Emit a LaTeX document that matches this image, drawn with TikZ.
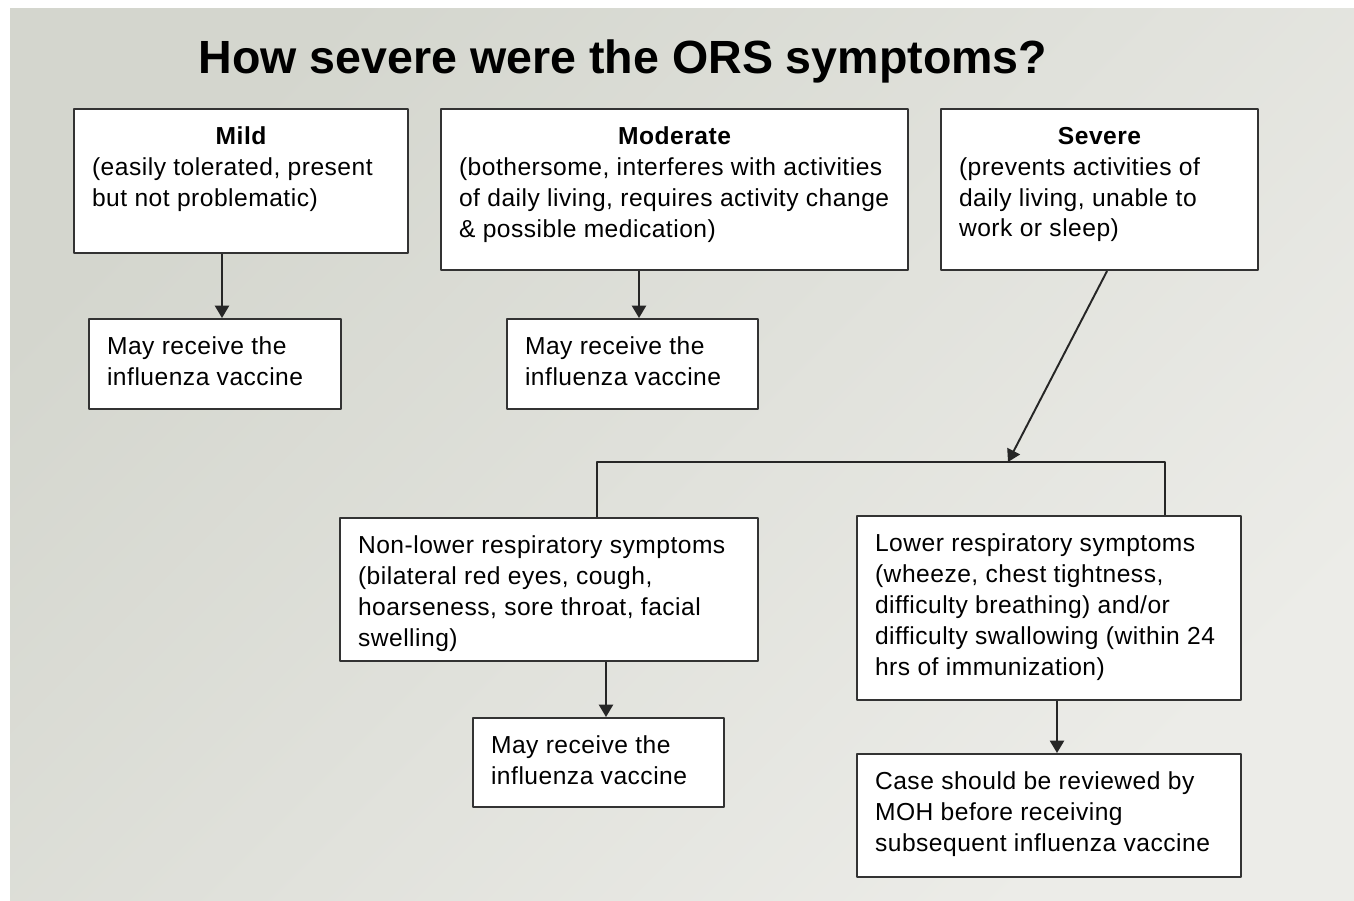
\documentclass[tikz,border=0pt]{standalone}
\usepackage{fontspec}
\setmainfont{Liberation Sans}
\newfontfamily\boxfont{Liberation Sans}[LetterSpace=2]
\usetikzlibrary{arrows.meta}
\definecolor{bgdark}{RGB}{212,214,206}
\definecolor{bglight}{RGB}{236,236,232}
\newlength\pxu
\setlength\pxu{0.02cm}
\newcommand\boxbody[3]{\parbox[t][\dimexpr#2\pxu-0.72cm][t]{\dimexpr#1\pxu-0.72cm}{\raggedright#3}}
\newcommand\boxhead[1]{\makebox[\linewidth]{\bfseries #1}\\}

\begin{document}
\begin{tikzpicture}[x=0.02cm,y=-0.02cm,line join=round,>={Triangle[length=7pt,width=8pt]},thick]
	\tikzset{every node/.style={font=\boxfont\fontsize{14}{17.6}\selectfont},
		box/.style={draw=black!80,line width=1.2pt,fill=white,anchor=north west,inner sep=0.36cm},
		link/.style={black!85,line width=1.1pt}}
	\useasboundingbox (0,0) rectangle (1354,900);
	\fill[white] (0,0) rectangle (1354,900);
	\shade[top color=bgdark,bottom color=bglight,shading angle=45] (10,8) rectangle (1354,900);
	\node[font=\rmfamily\fontsize{26.5}{30}\selectfont\bfseries] (title) at (623,61) {How severe were the ORS symptoms?};
	\node[box] (mild) at (73,108) {\boxbody{334}{144}{\boxhead{Mild}(easily tolerated, present\\but not problematic)}};
	\node[box] (moder) at (440,108) {\boxbody{467}{161}{\boxhead{Moderate}(bothersome, interferes with activities\\of daily living, requires activity change\\\& possible medication)}};
	\node[box] (sev) at (940,108) {\boxbody{317}{161}{\boxhead{Severe}(prevents activities of\\daily living, unable to\\work or sleep)}};
	\node[box] (may1) at (88,318) {\boxbody{252}{90}{May receive the\\influenza vaccine}};
	\node[box] (may2) at (506,318) {\boxbody{251}{90}{May receive the\\influenza vaccine}};
	\node[box] (nonlow) at (339,517) {\boxbody{418}{143}{Non-lower respiratory symptoms\\(bilateral red eyes, cough,\\hoarseness, sore throat, facial\\swelling)}};
	\node[box] (may3) at (472,717) {\boxbody{251}{89}{May receive the\\influenza vaccine}};
	\node[box] (lower) at (856,515) {\boxbody{384}{184}{Lower respiratory symptoms\\(wheeze, chest tightness,\\difficulty breathing) and/or\\difficulty swallowing (within 24\\hrs of immunization)}};
	\node[box] (case) at (856,753) {\boxbody{384}{123}{Case should be reviewed by\\MOH before receiving\\subsequent influenza vaccine}};
	\coordinate (split) at (1008,462);
	\draw[link,->] (mild.south -| 222,0) -- (may1.north -| 222,0);
	\draw[link,->] (moder.south -| 639,0) -- (may2.north -| 639,0);
	\draw[link,->] (sev.south -| 1107,0) -- (split);
	\draw[link] (nonlow.north -| 597,0) |- (split) -| (lower.north -| 1165,0);
	\draw[link,->] (nonlow.south -| 606,0) -- (may3.north -| 606,0);
	\draw[link,->] (lower.south -| 1057,0) -- (case.north -| 1057,0);
\end{tikzpicture}
\end{document}
